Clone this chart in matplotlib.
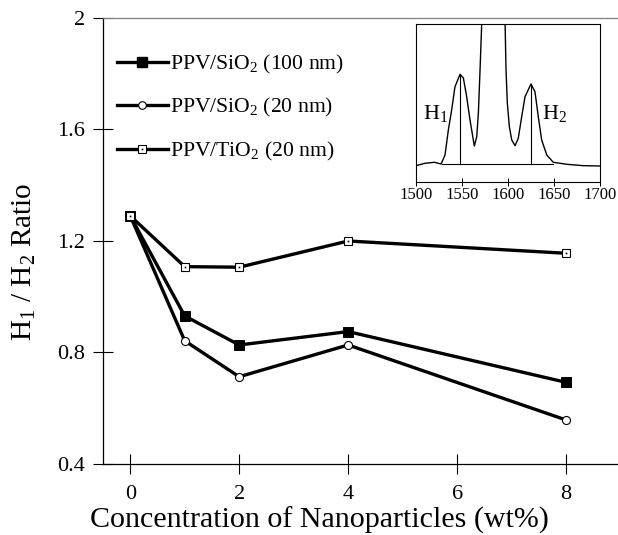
import numpy as np
import matplotlib
matplotlib.use("Agg")
import matplotlib.pyplot as plt

plt.rcParams["font.family"] = ["Liberation Serif", "DejaVu Serif"]
plt.rcParams["mathtext.fontset"] = "custom"
plt.rcParams["mathtext.rm"] = "Liberation Serif"
plt.rcParams["mathtext.it"] = "Liberation Serif:italic"

# main data
conc = [0, 1, 2, 4, 8]
sio2_100 = [1.29, 0.931, 0.827, 0.875, 0.693]
sio2_20 = [1.29, 0.842, 0.713, 0.827, 0.558]
tio2_20 = [1.29, 1.108, 1.106, 1.200, 1.156]
labels = [r"PPV/SiO$_\mathrm{2}$ (100 nm)",
          r"PPV/SiO$_\mathrm{2}$ (20 nm)",
          r"PPV/TiO$_\mathrm{2}$ (20 nm)"]

# inset spectrum
wn = [1500.3, 1510, 1520.3, 1527.5, 1531.8, 1535.4, 1539, 1542.6, 1548.1, 1551.7,
      1555.3, 1558.9, 1563.6, 1566.2, 1568, 1569.8, 1571.6, 1584, 1596.9, 1598,
      1599.4, 1601.6, 1604.2, 1607.8, 1611.3, 1615, 1618.6, 1625.1, 1629.4, 1633,
      1636.7, 1642.2, 1649.3, 1663.9, 1681.9, 1699.2]
inten = [16, 18.4, 19.4, 17.7, 26.7, 51.7, 71.7, 95, 107.4, 103.7,
         85, 61.7, 35.7, 45, 68.7, 111.7, 158, 400, 161.7, 111.7,
         78.7, 55, 41.7, 36, 43.4, 65, 85, 97.7, 90, 65,
         41.7, 26.7, 19.4, 17.4, 16, 15.7]
h1_pos, h1_top = 1548, 107.4
h2_pos, h2_top = 1625, 97.7
base_level = 17.7
base_from, base_to = 1528, 1649

fig = plt.figure(figsize=(6.18, 5.35), dpi=100)
ax = fig.add_axes([0.1667, 0.1327, 0.8333, 0.8337])

lw = 2.4
ax.plot(conc, sio2_100, color="black", lw=lw, marker="s", ms=6.7,
        mfc="black", mec="black", mew=0.7, zorder=3)
ax.plot(conc, sio2_20, color="black", lw=lw, marker="o", ms=5.8,
        mfc="white", mec="black", mew=0.8, zorder=3)
ax.plot(conc, tio2_20, color="black", lw=lw, marker="s", ms=6.3,
        mfc="white", mec="black", mew=0.8, zorder=4)
ax.plot(conc, tio2_20, ls="none", marker="s", ms=1.2, mfc="black", mec="black",
        mew=0, zorder=5)

# legend handles (square with centre dot built from two markers)
h_a, = ax.plot([], [], color="black", lw=lw, marker="s", ms=6.5, mfc="black", mec="black")
h_b, = ax.plot([], [], color="black", lw=lw, marker="o", ms=5.5, mfc="white", mec="black", mew=0.8)
h_c, = ax.plot([], [], color="black", lw=lw, marker="s", ms=6.3, mfc="white", mec="black", mew=0.8)
h_d, = ax.plot([], [], ls="none", marker="s", ms=1.2, mfc="black", mec="black", mew=0)
ax.legend([h_a, h_b, (h_c, h_d)], labels, loc="upper left",
          bbox_to_anchor=(0.027, 0.921), frameon=False, fontsize=15.6,
          handlelength=2.35, handletextpad=0.1, labelspacing=0.93,
          borderpad=0, borderaxespad=0)

ax.set_xlim(-0.5, 8.954)
ax.set_ylim(0.4, 2.0)
ax.set_xticks([0, 2, 4, 6, 8])
ax.set_yticks([0.4, 0.8, 1.2, 1.6, 2.0])
ax.set_yticklabels(["0.4", "0.8", "1.2", "1.6", "2"])
ax.tick_params(direction="inout", length=14.4, width=0.8, labelsize=16)
ax.tick_params(axis="x", pad=8)
ax.tick_params(axis="y", pad=6)
ax.spines["right"].set_visible(False)
ax.spines["top"].set_color("0.5")
for s in ["left", "bottom", "top"]:
    ax.spines[s].set_linewidth(0.9)

ax.set_xlabel("Concentration of Nanoparticles (wt%)", fontsize=21.6)
ax.xaxis.set_label_coords(0.421, -0.142)
ax.xaxis.label.set_va("baseline")
ax.set_ylabel(r"H$_\mathrm{1}$ / H$_\mathrm{2}$ Ratio", fontsize=21)
ax.yaxis.set_label_coords(-0.126, 0.453)

# inset
ins = fig.add_axes([0.6727, 0.6604, 0.2982, 0.2942])
ins.plot(wn, inten, color="black", lw=1.0)
ins.plot([h1_pos, h1_pos], [base_level, h1_top], color="black", lw=0.8)
ins.plot([h2_pos, h2_pos], [base_level, h2_top], color="black", lw=0.8)
ins.plot([base_from, base_to], [base_level, base_level], color="black", lw=0.8)
ins.text(1522, 68, r"H$_\mathrm{1}$", fontsize=16, ha="center", va="center")
ins.text(1651, 68, r"H$_\mathrm{2}$", fontsize=16, ha="center", va="center")
ins.set_xlim(1500, 1700)
ins.set_ylim(0, 157.4)
ins.set_xticks([1500, 1550, 1600, 1650, 1700])
ins.set_yticks([])
ins.tick_params(direction="inout", length=6, width=0.7, labelsize=12, pad=1)
for s in ins.spines.values():
    s.set_linewidth(0.8)

fig.savefig("out.png", dpi=100)
